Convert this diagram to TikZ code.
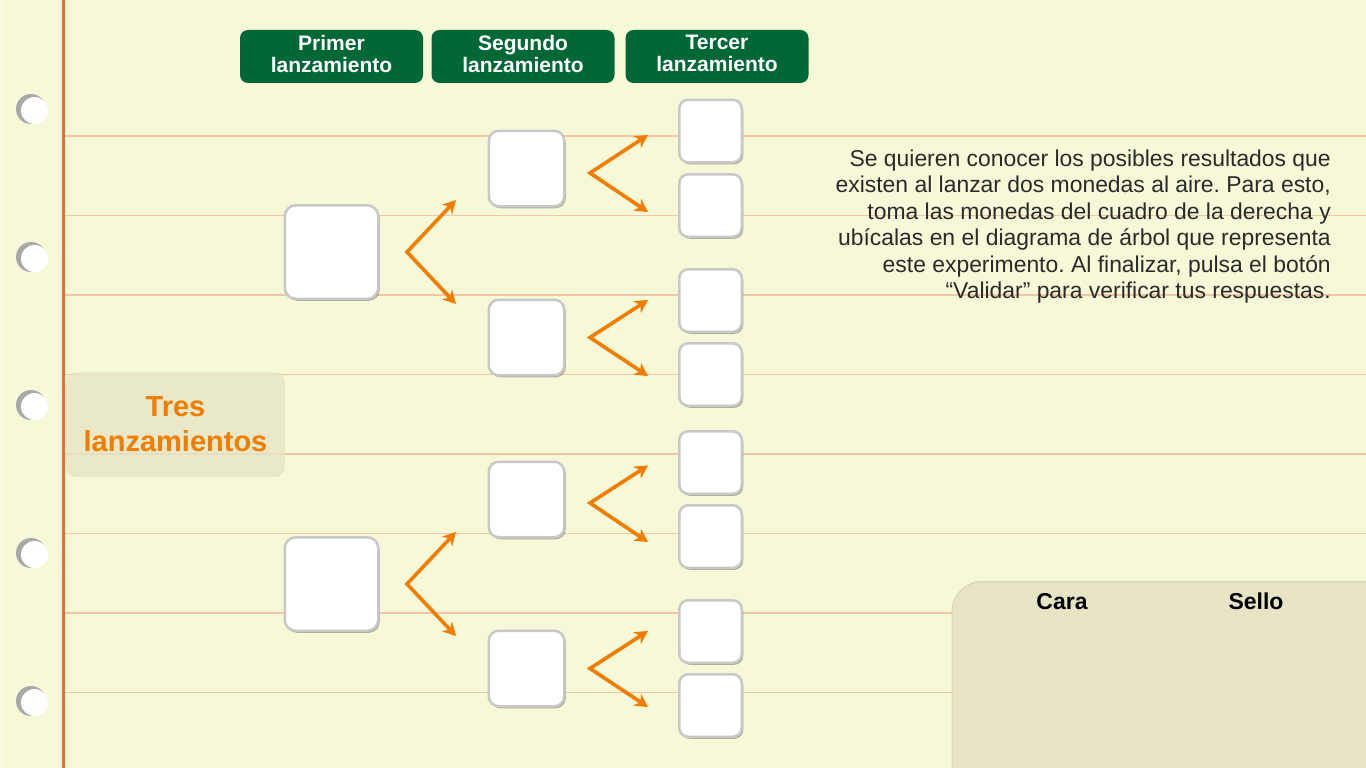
\documentclass[tikz,border=0pt]{standalone}
\usepackage{fontspec}
\setmainfont{Liberation Sans}
\usetikzlibrary{arrows.meta,shadows}
\definecolor{paper}{HTML}{F7F8D8}
\definecolor{ruleline}{HTML}{F2C6A4}
\definecolor{marginline}{HTML}{E2703C}
\definecolor{hdr}{HTML}{006837}
\definecolor{orng}{HTML}{F07C00}
\definecolor{boxedge}{HTML}{C8C8C8}
\definecolor{panelfill}{HTML}{E7E4C5}
\definecolor{paneledge}{HTML}{DAD6B6}
\definecolor{txt}{HTML}{2A2A2A}
\definecolor{hole}{HTML}{A9A9A9}
\definecolor{tresfill}{HTML}{E6E5C4}
\frenchspacing
\begin{document}
\begin{tikzpicture}[x=1pt,y=-1pt,
  header/.style={fill=hdr, rounded corners=8pt, minimum width=183pt, minimum height=53pt, inner sep=0pt},
  headertext/.style={text=white, font=\fontsize{21}{22}\selectfont\bfseries, align=center, inner sep=0pt},
  slot/.style={fill=white, draw=boxedge, line width=2.5pt, rounded corners=#1, inner sep=0pt,
    drop shadow={shadow xshift=1.5pt, shadow yshift=-2pt, opacity=0.3, fill=black}},
  bigslot/.style={slot=11pt, minimum size=93.5pt},
  midslot/.style={slot=10pt, minimum size=75.5pt},
  smallslot/.style={slot=9pt, minimum size=62.5pt},
  arr/.style={draw=orng, line width=3.6pt, {Stealth[length=13pt,width=14pt,inset=4pt]}-{Stealth[length=13pt,width=14pt,inset=4pt]}},
]
\useasboundingbox (0,0) rectangle (1366,768);
\fill[paper] (0,0) rectangle (1366,768);
\draw[color=white!60!paper, line width=1.5pt] (1.5,0) -- (1.5,768);
% ruled lines
\foreach \yy in {136,215.5,295,374.5,454,533.5,613,692.5}
  \draw[ruleline, line width=1.2pt] (65,\yy) -- (1366,\yy);
% margin
\draw[marginline, line width=3pt] (63.5,0) -- (63.5,768);
% holes
\foreach \yy in {109,257,405,553,701}{
  \fill[hole] (31,\yy) circle (15);
  \fill[white] (34.5,\yy+1.5) circle (13.5);
}
% headers
\node[header] (h1) at (331.5,56.5) {};
\node[header] (h2) at (523,56.5) {};
\node[header] (h3) at (717,56.5) {};
\node[headertext] (h1t) at (331.5,53.5) {Primer\\lanzamiento};
\node[headertext] (h2t) at (523,53.5) {Segundo\\lanzamiento};
\node[headertext] (h3t) at (717,53.5) {Tercer\\lanzamiento};
% title box
\node[fill=tresfill, fill opacity=0.8, text opacity=1, rounded corners=10pt, minimum width=219pt, minimum height=105pt,
  text=orng, font=\fontsize{29}{35}\selectfont\bfseries, align=center, inner sep=0pt] (tres) at (175.5,424.5) {Tres\\lanzamientos};
% slots
\node[bigslot] (a1) at (331.5,252) {};
\node[bigslot] (a2) at (331.5,584) {};
\node[midslot] (b1) at (526.5,168.5) {};
\node[midslot] (b2) at (526.5,337.5) {};
\node[midslot] (b3) at (526.5,499.5) {};
\node[midslot] (b4) at (526.5,668.5) {};
\node[smallslot] (c1) at (710.5,131) {};
\node[smallslot] (c2) at (710.5,205.5) {};
\node[smallslot] (c3) at (710.5,300.5) {};
\node[smallslot] (c4) at (710.5,374.5) {};
\node[smallslot] (c5) at (710.5,462.5) {};
\node[smallslot] (c6) at (710.5,536.5) {};
\node[smallslot] (c7) at (710.5,631.5) {};
\node[smallslot] (c8) at (710.5,705.5) {};
% arrow coordinates
\coordinate (sa1) at (407,252);  \coordinate (ua1) at (456,200); \coordinate (da1) at (456,304);
\coordinate (sa2) at (407,584);  \coordinate (ua2) at (456,532); \coordinate (da2) at (456,636);
\coordinate (sb1) at (590,173);  \coordinate (ub1) at (648,135); \coordinate (db1) at (648,212);
\coordinate (sb2) at (590,337.5);  \coordinate (ub2) at (648,300); \coordinate (db2) at (648,376);
\coordinate (sb3) at (590,503);  \coordinate (ub3) at (648,465.5); \coordinate (db3) at (648,542);
\coordinate (sb4) at (590,668.5);  \coordinate (ub4) at (648,631); \coordinate (db4) at (648,707);
\draw[arr] (ua1) -- (sa1) -- (da1);
\draw[arr] (ua2) -- (sa2) -- (da2);
\draw[arr] (ub1) -- (sb1) -- (db1);
\draw[arr] (ub2) -- (sb2) -- (db2);
\draw[arr] (ub3) -- (sb3) -- (db3);
\draw[arr] (ub4) -- (sb4) -- (db4);
% instructions
\node[anchor=north east, align=right, inner sep=0pt, text=txt, font=\fontsize{22.9}{26.5}\selectfont] (instr) at (1331,149.5)
 {Se quieren conocer los posibles resultados que\\
  existen al lanzar dos monedas al aire. Para esto,\\
  toma las monedas del cuadro de la derecha y\\
  ubícalas en el diagrama de árbol que representa\\
  este experimento. Al finalizar, pulsa el botón\\
  “Validar” para verificar tus respuestas.};
% coin panel
\node[fill=panelfill, draw=paneledge, line width=1.2pt, rounded corners=30pt, anchor=north west,
  minimum width=480pt, minimum height=250pt] (panel) at (951.5,581) {};
\node[font=\fontsize{23}{23}\selectfont\bfseries, anchor=base] (cara) at (1062,609) {Cara};
\node[font=\fontsize{23}{23}\selectfont\bfseries, anchor=base] (sello) at (1256,609) {Sello};
\end{tikzpicture}
\end{document}
